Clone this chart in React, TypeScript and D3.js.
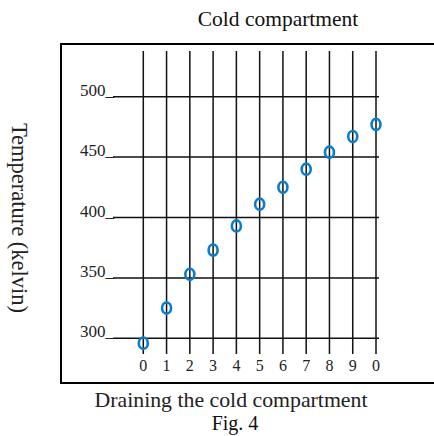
import React from 'react';
import * as d3 from 'd3';

const steps = [0, 1, 2, 3, 4, 5, 6, 7, 8, 9, 10];
const stepLabels = ['0', '1', '2', '3', '4', '5', '6', '7', '8', '9', '0'];
const tempTicks = [300, 350, 400, 450, 500];
const temps = [296, 325, 353, 373, 393, 411, 425, 440, 454, 467, 477];

const W = 434;
const H = 436;
const serif = '"Liberation Serif", "DejaVu Serif", serif';

const App = () => {
  const x = d3.scaleLinear().domain([0, 10]).range([143.3, 376]);
  const y = d3.scaleLinear().domain([300, 500]).range([338.3, 96.7]);

  return (
    <svg width={W} height={H} style={{ position: 'absolute', left: 0, top: 0 }} fontFamily={serif}>
      <rect x={0} y={0} width={W} height={H} fill="#fff" />

      {/* frame, right side runs off the picture */}
      <rect x={61} y={44} width={W} height={339} fill="none" stroke="#000" strokeWidth={2} />

      <text x={278} y={26} textAnchor="middle" fontSize={21.5} fill="#111">Cold compartment</text>

      {/* vertical grid */}
      {steps.map(d => (
        <line key={'v' + d} x1={x(d)} x2={x(d)} y1={51} y2={354} stroke="#111" strokeWidth={1.5} />
      ))}

      {/* horizontal grid */}
      {tempTicks.map(t => (
        <g key={'h' + t}>
          <line x1={113} x2={379} y1={y(t)} y2={y(t)} stroke="#111" strokeWidth={1.5} />
          <text x={114} y={y(t) - 1} textAnchor="end" fontSize={17} fill="#222">{t + '_'}</text>
        </g>
      ))}

      {steps.map((d, i) => (
        <text key={'xl' + d} x={x(d)} y={371} textAnchor="middle" fontSize={16} fill="#222">{stepLabels[i]}</text>
      ))}

      {temps.map((t, i) => (
        <ellipse key={'p' + i} cx={x(steps[i])} cy={y(t)} rx={4.5} ry={5.6} fill="none" stroke="#0a7ccc" strokeWidth={2.6} />
      ))}

      <text transform="translate(12,218) rotate(90)" textAnchor="middle" fontSize={22.5} fill="#222">Temperature (kelvin)</text>

      <text x={231} y={407} textAnchor="middle" fontSize={21.8} fill="#222">Draining the cold compartment</text>
      <text x={235} y={430} textAnchor="middle" fontSize={20} fill="#111">Fig. 4</text>
    </svg>
  );
};

export default App;
